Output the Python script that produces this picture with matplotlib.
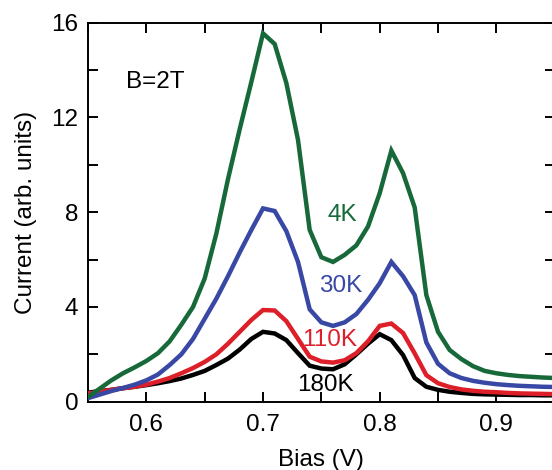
import matplotlib
matplotlib.use("Agg")
from matplotlib import pyplot as plt
from matplotlib.ticker import MultipleLocator

plt.rcParams['font.family'] = ['Liberation Sans', 'DejaVu Sans']

# bias (V), one point every 10 mV
bias = [0.55, 0.56, 0.57, 0.58, 0.59, 0.60, 0.61, 0.62, 0.63, 0.64,
        0.65, 0.66, 0.67, 0.68, 0.69, 0.70, 0.71, 0.72, 0.73, 0.74,
        0.75, 0.76, 0.77, 0.78, 0.79, 0.80, 0.81, 0.82, 0.83, 0.84,
        0.85, 0.86, 0.87, 0.88, 0.89, 0.90, 0.91, 0.92, 0.93, 0.94, 0.95]

# current (arb. units) for each temperature
i_4K = [0.2, 0.55, 0.9, 1.2, 1.45, 1.72, 2.05, 2.55, 3.25, 4.0,
        5.2, 7.1, 9.4, 11.5, 13.5, 15.55, 15.1, 13.45, 11.05, 7.25,
        6.1, 5.9, 6.2, 6.6, 7.4, 8.8, 10.6, 9.65, 8.2, 4.5,
        2.95, 2.18, 1.8, 1.5, 1.3, 1.2, 1.13, 1.08, 1.05, 1.02, 1.0]
i_30K = [0.15, 0.3, 0.45, 0.58, 0.72, 0.9, 1.15, 1.55, 2.0, 2.65,
         3.5, 4.35, 5.3, 6.3, 7.25, 8.16, 8.05, 7.2, 5.9, 3.9,
         3.35, 3.2, 3.35, 3.7, 4.3, 5.0, 5.9, 5.3, 4.5, 2.5,
         1.6, 1.2, 1.0, 0.88, 0.8, 0.74, 0.7, 0.67, 0.65, 0.63, 0.62]
i_110K = [0.35, 0.42, 0.5, 0.57, 0.63, 0.72, 0.85, 1.0, 1.2, 1.42,
          1.68, 2.0, 2.45, 2.95, 3.45, 3.87, 3.85, 3.4, 2.65, 1.9,
          1.7, 1.65, 1.75, 2.05, 2.55, 3.2, 3.3, 2.9, 2.04, 1.12,
          0.78, 0.62, 0.52, 0.46, 0.42, 0.4, 0.37, 0.35, 0.34, 0.33, 0.32]
i_180K = [0.38, 0.45, 0.5, 0.57, 0.63, 0.7, 0.78, 0.87, 0.98, 1.13,
          1.3, 1.55, 1.82, 2.2, 2.65, 2.95, 2.88, 2.6, 2.05, 1.52,
          1.4, 1.37, 1.58, 2.0, 2.45, 2.85, 2.6, 1.97, 1.0, 0.63,
          0.5, 0.42, 0.37, 0.33, 0.31, 0.3, 0.29, 0.28, 0.28, 0.27, 0.27]

series = [
    (i_4K, "#17693a", "4K", 0.7677, 7.9),
    (i_30K, "#3848a4", "30K", 0.7664, 4.9),
    (i_110K, "#dd1f2a", "110K", 0.757, 2.6),
    (i_180K, "#000000", "180K", 0.7536, 0.7),
]

fs = 17.5

fig = plt.figure(figsize=(5.52, 4.70), dpi=100)
ax = fig.add_axes([88 / 552, 68.3 / 470, 466.7 / 552, 379 / 470])

for cur, col, lab, tx, ty in series[::-1]:
    ax.plot(bias, cur, color=col, lw=3.2, solid_joinstyle='miter', zorder=3)
for cur, col, lab, tx, ty in series:
    ax.text(tx, ty, lab, color=col, fontsize=fs, ha='center', va='center', zorder=4)

ax.text(0.608, 13.5, "B=2T", fontsize=fs, ha='center', va='center')

ax.set_xlim(0.55, 0.95)
ax.set_ylim(0, 16)
ax.xaxis.set_minor_locator(MultipleLocator(0.05))
ax.yaxis.set_major_locator(MultipleLocator(4))
ax.yaxis.set_minor_locator(MultipleLocator(2))
ax.set_xticks([0.6, 0.7, 0.8, 0.9])
ax.set_xticklabels(["0.6", "0.7", "0.8", "0.9"])
ax.tick_params(which='both', direction='in', top=True, right=True,
               length=7.5, width=1.4, labelsize=fs)
ax.tick_params(axis='x', pad=9)
ax.tick_params(axis='y', pad=7)

for s in ax.spines.values():
    s.set_linewidth(1.4)

ax.set_xlabel("Bias (V)", fontsize=fs, labelpad=9)
ax.set_ylabel("Current (arb. units)", fontsize=fs, labelpad=10)

fig.savefig("out.png", dpi=100)
